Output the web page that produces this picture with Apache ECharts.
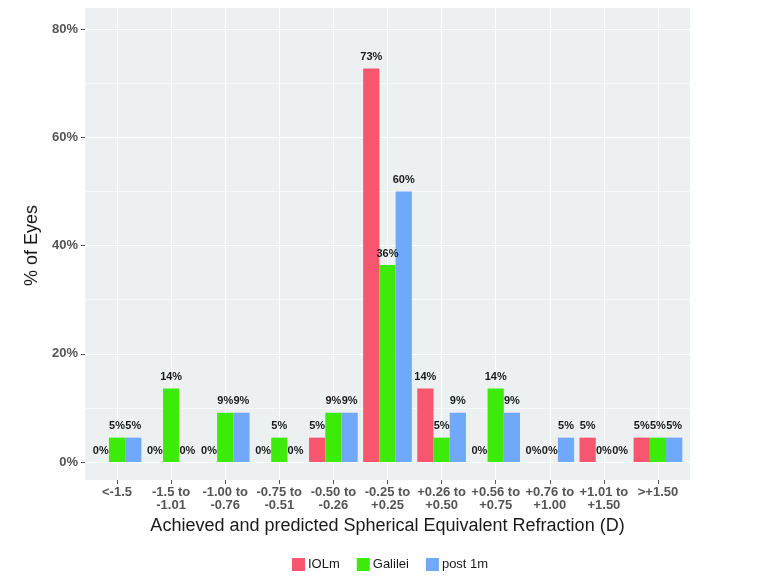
<!DOCTYPE html>
<html>
<head>
<meta charset="utf-8">
<script src="https://cdn.jsdelivr.net/npm/echarts@6/dist/echarts.min.js"></script>
<style>html,body{margin:0;padding:0;background:#fff}#c{width:783px;height:585px}</style>
</head>
<body>
<div id="c"></div>
<script>
var categories = ['<-1.5', '-1.5 to\n-1.01', '-1.00 to\n-0.76', '-0.75 to\n-0.51', '-0.50 to\n-0.26', '-0.25 to\n+0.25', '+0.26 to\n+0.50', '+0.56 to\n+0.75', '+0.76 to\n+1.00', '+1.01 to\n+1.50', '>+1.50'];
var seriesNames = ['IOLm', 'Galilei', 'post 1m'];
var iolm =    [0, 0, 0, 0, 4.5, 72.7, 13.6, 0, 0, 4.5, 4.5];
var galilei = [4.5, 13.6, 9.1, 4.5, 9.1, 36.4, 4.5, 13.6, 0, 0, 4.5];
var post1m =  [4.5, 0, 9.1, 0, 9.1, 50.0, 9.1, 9.1, 4.5, 0, 4.5];
var iolmLabels =    ['0%', '0%', '0%', '0%', '5%', '73%', '14%', '0%', '0%', '5%', '5%'];
var galileiLabels = ['5%', '14%', '9%', '5%', '9%', '36%', '5%', '14%', '0%', '0%', '5%'];
var post1mLabels =  ['5%', '0%', '9%', '0%', '9%', '60%', '9%', '9%', '5%', '0%', '5%'];
var yTicks = [0, 20, 40, 60, 80];

var colors = ['#F8566F', '#3DEB0A', '#70A8FA'];
var values = [iolm, galilei, post1m];
var labels = [iolmLabels, galileiLabels, post1mLabels];
var FONT = 'Liberation Sans, Arial, sans-serif';

var chart = echarts.init(document.getElementById('c'), null, {renderer: 'canvas'});
var series = seriesNames.map(function (name, i) {
  return {
    name: name, type: 'bar', xAxisIndex: 2, yAxisIndex: 2,
    data: values[i], barWidth: '30%', barGap: '0%',
    itemStyle: {color: colors[i]},
    label: {
      show: true, position: 'top', distance: 6,
      fontFamily: FONT, fontSize: 11, fontWeight: 'bold', color: '#1a1a1a',
      formatter: function (p) { return labels[i][p.dataIndex]; }
    },
    z: 5
  };
});

chart.setOption({
  animation: false,
  color: colors,
  textStyle: {fontFamily: FONT},
  grid: [
    {left: 85, right: 93, top: 29, bottom: 123},
    {left: 117, right: 125, top: 8, bottom: 105},
    {left: 90, right: 98, top: 29, bottom: 123},
    {left: 85, right: 93, top: 8, bottom: 105, show: true, backgroundColor: '#EDF0F1', borderWidth: 0, z: -1}
  ],
  xAxis: [
    {gridIndex: 0, type: 'value', min: 0, max: 1, show: false},
    {gridIndex: 1, type: 'category', data: categories, boundaryGap: false,
      axisLine: {show: false},
      axisTick: {show: true, length: 4, lineStyle: {color: '#555'}, interval: 0},
      axisLabel: {interval: 0, margin: 6, fontSize: 13, fontWeight: 'bold', lineHeight: 13, color: '#555', fontFamily: FONT},
      splitLine: {show: true, interval: 0, lineStyle: {color: '#ffffff', width: 1.2}},
      name: 'Achieved and predicted Spherical Equivalent Refraction (D)',
      nameLocation: 'middle', nameGap: 36,
      nameTextStyle: {fontSize: 18, color: '#1a1a1a', fontFamily: FONT}},
    {gridIndex: 2, type: 'category', data: categories, show: false},
    {gridIndex: 3, type: 'value', show: false}
  ],
  yAxis: [
    {gridIndex: 0, type: 'value', min: 0, max: 80, interval: 20,
      axisLine: {show: false},
      axisTick: {show: true, length: 4, lineStyle: {color: '#555'}},
      axisLabel: {formatter: '{value}%', fontSize: 13, fontWeight: 'bold', color: '#555', margin: 7, fontFamily: FONT},
      splitLine: {show: true, lineStyle: {color: '#ffffff', width: 1.2}},
      minorTick: {show: false, splitNumber: 2},
      minorSplitLine: {show: true, lineStyle: {color: '#ffffff', width: 0.6}},
      name: '% of Eyes', nameLocation: 'middle', nameGap: 39, nameRotate: 90,
      nameTextStyle: {fontSize: 18, color: '#1a1a1a', fontFamily: FONT}},
    {gridIndex: 1, type: 'value', show: false},
    {gridIndex: 2, type: 'value', min: 0, max: 80, show: false},
    {gridIndex: 3, type: 'value', show: false}
  ],
  legend: {
    data: seriesNames, left: 287, top: 553,
    itemWidth: 13, itemHeight: 13, itemGap: 17,
    icon: 'rect',
    textStyle: {fontSize: 13, color: '#1a1a1a', fontFamily: FONT, padding: [0, 0, 0, -2]}
  },
  series: series
});
</script>
</body>
</html>
